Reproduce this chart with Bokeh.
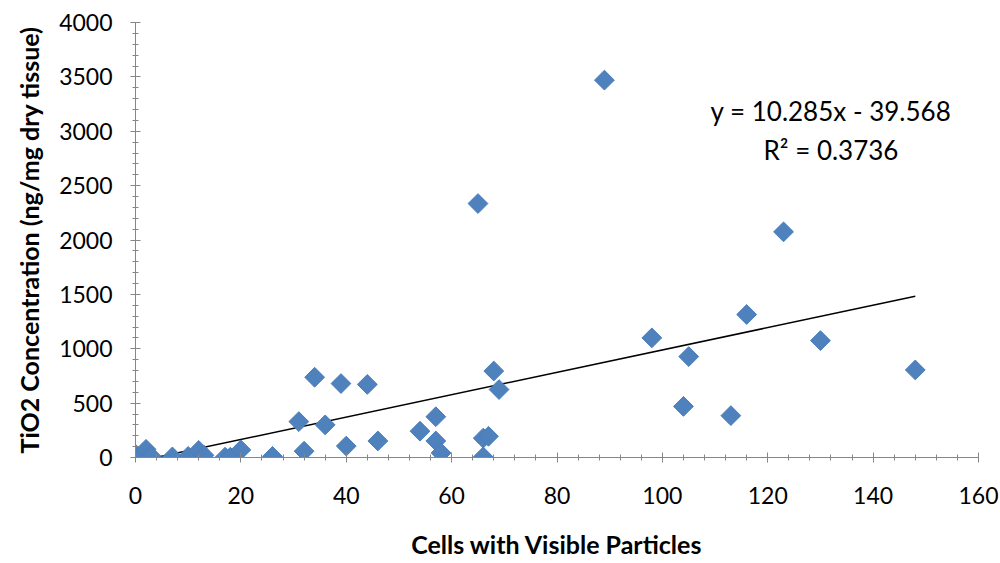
from bokeh.plotting import figure
from bokeh.models import Range1d, SingleIntervalTicker, Label
from bokeh.embed import file_html
from bokeh.resources import INLINE

# data
cells = [0, 0, 1, 2, 3, 7, 10, 12, 13, 17, 18, 20, 26, 31, 32, 34, 36, 39, 40, 44,
         46, 54, 57, 57, 58, 65, 66, 66, 67, 68, 69, 89, 98, 104, 105, 113, 116, 123, 130, 148]
tio2 = [5, 30, 10, 75, 10, 5, 10, 65, 20, 3, 3, 70, 10, 330, 58, 738, 300, 680, 105, 672,
        152, 242, 375, 152, 42, 2335, 178, 5, 195, 795, 625, 3470, 1100, 470, 928, 385, 1315, 2075, 1075, 805]
slope = 10.285
intercept = -39.568
r2 = 0.3736
fit_x = [-intercept / slope, 148]
fit_y = [slope * v + intercept for v in fit_x]

FONT = "Lato"
AXIS_COLOR = "#868686"

p = figure(width=1000, height=563, output_backend="svg", toolbar_location=None,
           x_range=Range1d(0, 160), y_range=Range1d(0, 4000),
           min_border_left=135, min_border_right=22, min_border_top=22, min_border_bottom=106)
p.outline_line_color = None
p.xgrid.visible = False
p.ygrid.visible = False

p.line(fit_x, fit_y, line_color="black", line_width=1.5)
p.scatter(cells, tio2, marker="square", angle=0.7854, size=14,
          fill_color="#4F81BD", line_color="#4A7EBB", line_width=1)

p.xaxis.ticker = SingleIntervalTicker(interval=20, num_minor_ticks=5)
p.yaxis.ticker = SingleIntervalTicker(interval=500, num_minor_ticks=5)

for ax in (p.xaxis[0], p.yaxis[0]):
    ax.axis_line_color = AXIS_COLOR
    ax.major_tick_line_color = AXIS_COLOR
    ax.minor_tick_line_color = AXIS_COLOR
    ax.major_tick_in = 5
    ax.major_tick_out = 5
    ax.minor_tick_in = 3
    ax.minor_tick_out = 3
    ax.major_label_text_font = FONT
    ax.major_label_text_font_size = "23px"
    ax.major_label_text_color = "black"
    ax.axis_label_text_font = FONT
    ax.axis_label_text_font_style = "bold"
    ax.axis_label_text_font_size = "25px"
    ax.axis_label_text_color = "black"

p.xaxis.axis_label = "Cells with Visible Particles"
p.yaxis.axis_label = "TiO2 Concentration (ng/mg dry tissue)"
p.xaxis.major_label_standoff = 24
p.yaxis.major_label_standoff = 18
p.xaxis.axis_label_standoff = 22
p.yaxis.axis_label_standoff = 12

p.add_layout(Label(x=132, y=3182, text="y = 10.285x - 39.568", text_align="center",
                   text_baseline="middle", text_font=FONT, text_font_size="26px",
                   text_color="black"))
p.add_layout(Label(x=132, y=2823, text="R² = " + str(r2), text_align="center",
                   text_baseline="middle", text_font=FONT, text_font_size="26px",
                   text_color="black"))

open("out.html", "w").write(file_html(p, INLINE))
